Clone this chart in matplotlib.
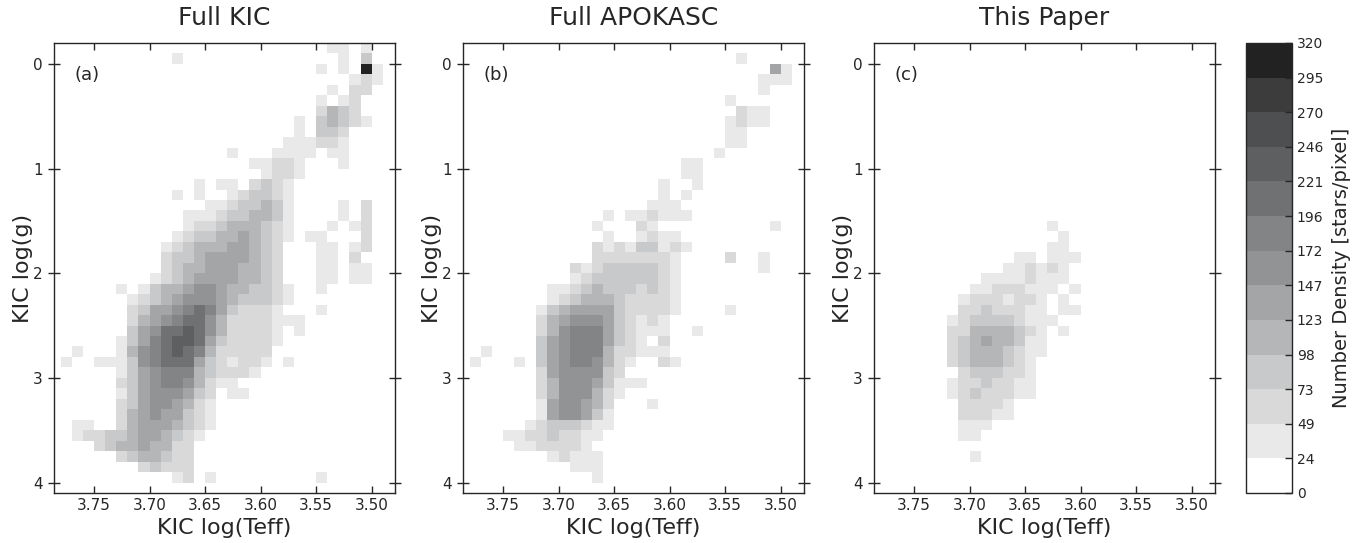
import numpy as np
import matplotlib
matplotlib.use("Agg")
import matplotlib.pyplot as plt
from matplotlib.colors import ListedColormap, BoundaryNorm

# ---------------- data ----------------
titles = ["Full KIC", "Full APOKASC", "This Paper"]
panel_tags = ["(a)", "(b)", "(c)"]

# histogram bin edges: log(Teff) columns (0.01 wide), log(g) rows (0.1 wide)
teff_edges = np.round(np.arange(3.79, 3.475, -0.01), 2)   # 32 edges -> 31 columns
logg_edges = np.round(np.arange(-0.2, 4.15, 0.1), 1)      # 44 edges -> 43 rows

# colour level read for every cell (hex digit 0..c, one of 13 colorbar bands);
# row j = log g bin starting at -0.2 + 0.1 j, column i = log Teff bin starting at 3.79 - 0.01 i
kic_rows = [
    "0000000000" "0000000000" "0000011010",
    "0000000000" "0100000000" "0000001030",
    "0000000000" "0000000000" "00001010c1",
    "0000000000" "0000000000" "0000000121",
    "0000000000" "0000000000" "0000010220",
    "0000000000" "0000000000" "0000101200",
    "0000000000" "0000000000" "0000243200",
    "0000000000" "0000000000" "0010343210",
    "0000000000" "0000000000" "0010332000",
    "0000000000" "0000000000" "0111221000",
    "0000000000" "0000001000" "1111011000",
    "0000000000" "0000000011" "2210001000",
    "0000000000" "0000000001" "2210000000",
    "0000000000" "0001011023" "2100000000",
    "0000000000" "0101001233" "2100000000",
    "0000000000" "0000112334" "3100001020",
    "0000000000" "0011123344" "3100001020",
    "0000000000" "0012234443" "2100010120",
    "0000000000" "0123344543" "2101100020",
    "0000000000" "1234445543" "2000110120",
    "0000000000" "2334555543" "2000110200",
    "0000000000" "2344555443" "2000110110",
    "0000000001" "2345555443" "2000110110",
    "0000001013" "4456654433" "2100100000",
    "0000000123" "4566654333" "2100000000",
    "0000000235" "5678753222" "1000100000",
    "0000000245" "6788642222" "1110000000",
    "0000000356" "8898642222" "1010000000",
    "0000001357" "8998532222" "1000000000",
    "0010001467" "8987422222" "0000000000",
    "0100111367" "8885321221" "0100000000",
    "0000001356" "7774322210",
    "0000002356" "7764211000",
    "0000001356" "6653201100",
    "0000002356" "6542100000",
    "0000002456" "5532100000",
    "0011002455" "5432100000",
    "0012233455" "4321000000",
    "0000234454" "4220000000",
    "0000002344" "3220000000",
    "0000000023" "2220000000",
    "0000000000" "0120100000" "0000100000",
    "",
]

apokasc_rows = [
    "",
    "0000000000" "0000000000" "0000010000",
    "0000000000" "0000000000" "0000000051",
    "0000000000" "0000000000" "0000000111",
    "0000000000" "0000000000" "0000000100",
    "0000000000" "0000000000" "0000100000",
    "0000000000" "0000000000" "0000021100",
    "0000000000" "0000000000" "0000121100",
    "0000000000" "0000000000" "0000110000",
    "0000000000" "0000000000" "0000110000",
    "0000000000" "0000000000" "0001000000",
    "0000000000" "0000000000" "1100000000",
    "0000000000" "0000000000" "1100000000",
    "0000000000" "0000000010" "0100000000",
    "0000000000" "0000000010" "1000000000",
    "0000000000" "0000000111",
    "0000000000" "0001011211" "1000000000",
    "0000000000" "0010002100" "0000000010",
    "0000000000" "0001001211",
    "0000000000" "0021213312" "1000000000",
    "0000000000" "0022222221" "0000200100",
    "0000000000" "2123333321" "0000000100",
    "0000000000" "1233333321",
    "0000000011" "2343332321",
    "0000000012" "3444322221",
    "0000000134" "5555322221" "0000100000",
    "0000000245" "6665321210",
    "0000000246" "7775321110" "0100000000",
    "0000000356" "7775321020",
    "0010000356" "7774221110",
    "0100010356" "7764210021",
    "0000000256" "6663200000",
    "0000000246" "6653111000",
    "0000000246" "6642100000",
    "0000000156" "6542000100",
    "0000000156" "6531000000",
    "0000001233" "3211000000",
    "0000112232" "2110000000",
    "0000011222" "2100000000",
    "0000000012" "1110000000",
    "0000000000" "1110000000",
    "0000000000" "0010000000",
    "",
]

paper_rows = [""] * 17 + [
    "0000000000" "0000001000",
    "0000000000" "0000000100",
    "0000000000" "0000001100",
    "0000000000" "0001101110",
    "0000000000" "0011212100",
    "0000000000" "1111211100",
    "0000000001" "1222111010",
    "0000000012" "2212210100",
    "0000000022" "3222110110",
    "0000000123" "3332111000",
    "0000000224" "4443210100",
    "0000000234" "5443110000",
    "0000000234" "4432110000",
    "0000000234" "4432100000",
    "0000000023" "3322100000",
    "0000000122" "3221100000",
    "0000000123" "2221100000",
    "0000000022" "2210000000",
    "0000000022" "2110000000",
    "0000000011" "1000000000",
    "0000000011",
    "",
    "0000000001",
    "",
    "",
    "",
]

cbar_max = 320.0
n_bands = 13
band_colors = ["#ffffff", "#e9e9e9", "#d9d9da", "#c8c9ca", "#b5b6b7", "#a4a5a7",
               "#929395", "#838486", "#707173", "#5e5f61", "#4e4f51", "#3c3c3d",
               "#222222"]

# ---------------- helpers ----------------
ncol = len(teff_edges) - 1
band = cbar_max / n_bands
levels = np.linspace(0, cbar_max, n_bands + 1)


def to_counts(rows):
    lev = np.array([[int(c, 16) for c in r.ljust(ncol, "0")] for r in rows], dtype=float)
    return np.where(lev > 0, (lev + 0.5) * band, 0.0)


panels = [to_counts(kic_rows), to_counts(apokasc_rows), to_counts(paper_rows)]

cmap = ListedColormap(band_colors)
norm = BoundaryNorm(levels, ncolors=n_bands)

# ---------------- figure ----------------
W, H = 1368, 543
fig = plt.figure(figsize=(W / 100, H / 100), dpi=100)
ink = "#262626"
plt.rcParams["font.family"] = "DejaVu Sans"

lefts = [54, 463, 874]
ax_w = 341
ax_bottom = 493
ax_top = 43

mesh = None
for k in range(3):
    ax = fig.add_axes([lefts[k] / W, 1 - ax_bottom / H, ax_w / W, (ax_bottom - ax_top) / H])
    mesh = ax.pcolormesh(teff_edges, logg_edges, panels[k], cmap=cmap, norm=norm,
                         shading="flat", linewidth=0, antialiased=False)
    ax.set_xlim(3.786, 3.479)
    ax.set_ylim(4.1, -0.2)
    ax.set_xticks([3.75, 3.70, 3.65, 3.60, 3.55, 3.50])
    ax.set_xticklabels(["%.2f" % v for v in [3.75, 3.70, 3.65, 3.60, 3.55, 3.50]])
    ax.set_yticks([0, 1, 2, 3, 4])
    ax.tick_params(axis="x", direction="in", length=5, top=True, labelsize=11,
                   colors=ink, width=1)
    ax.tick_params(axis="y", direction="inout", length=9, right=True, labelsize=11,
                   colors=ink, width=1)
    for s in ax.spines.values():
        s.set_color(ink)
        s.set_linewidth(1.0)
    ax.set_title(titles[k], fontsize=18, color=ink, pad=13)
    ax.set_xlabel("KIC log(Teff)", fontsize=16, color=ink, labelpad=4)
    ax.set_ylabel("KIC log(g)", fontsize=16, color=ink, labelpad=0)
    ax.text(0.06, 0.93, panel_tags[k], transform=ax.transAxes, fontsize=13,
            color=ink, va="center", ha="left")

cax = fig.add_axes([1246 / W, 1 - ax_bottom / H, 46 / W, (ax_bottom - ax_top) / H])
cb = fig.colorbar(mesh, cax=cax, ticks=levels, format="%d")
cb.ax.tick_params(direction="in", length=5, labelsize=10, colors=ink, width=1)
cb.outline.set_edgecolor(ink)
cb.outline.set_linewidth(1.0)
cb.set_label("Number Density [stars/pixel]", fontsize=14, color=ink, labelpad=6)

fig.savefig("out.png", dpi=100)
